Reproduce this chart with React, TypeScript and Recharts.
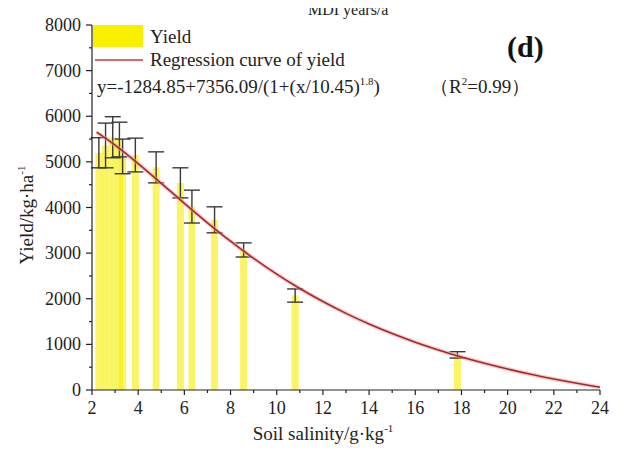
import React from "react";
import { ComposedChart, Bar, Line, XAxis, YAxis, ErrorBar } from "recharts";

// Bars: soil salinity (g/kg), mean yield (kg/ha), error (±)
const salinity = [2.29, 2.58, 2.89, 3.18, 3.32, 3.87, 4.77, 5.82, 6.32, 7.3, 8.56, 10.79, 17.82];
const yieldMean = [5200, 5360, 5540, 5490, 5120, 5150, 4880, 4540, 4020, 3730, 3070, 2070, 770];
const yieldErr = [330, 490, 450, 380, 380, 370, 340, 330, 360, 285, 155, 145, 70];

// Regression curve
const curveX = [2.2, 3, 4, 5, 6, 7, 8, 9, 10, 11, 12, 13, 14, 15, 16, 17, 18, 19, 20, 21, 22, 23, 24];
const curveY = [5651, 5367, 4962, 4529, 4091, 3665, 3261, 2885, 2539, 2224, 1938, 1680, 1447, 1237, 1048, 878, 724, 586, 460, 345, 242, 147, 61];

const xTicks = [2, 3, 4, 5, 6, 7, 8, 9, 10, 11, 12, 13, 14, 15, 16, 17, 18, 19, 20, 21, 22, 23, 24];
const xLabels = [2, 4, 6, 8, 10, 12, 14, 16, 18, 20, 22, 24];
const yTicks = [0, 500, 1000, 1500, 2000, 2500, 3000, 3500, 4000, 4500, 5000, 5500, 6000, 6500, 7000, 7500, 8000];
const yLabels = [0, 1000, 2000, 3000, 4000, 5000, 6000, 7000, 8000];

type Row = { x: number; y?: number; err?: number; curve?: number };
const rows: Row[] = [
  ...salinity.map((x, i) => ({ x, y: yieldMean[i], err: yieldErr[i] })),
  ...curveX.map((x, i) => ({ x, curve: curveY[i] })),
].sort((a, b) => a.x - b.x);

const FONT = "'Liberation Serif', 'Times New Roman', serif";
const AX = "#222";
const BAR_W = 7;

const YTick = (props: any) => {
  const { x, y, payload } = props;
  const major = yLabels.includes(payload.value);
  return (
    <g>
      <line x1={x - (major ? 6 : 3)} x2={x} y1={y} y2={y} stroke={AX} strokeWidth={1.2} />
      {major && (
        <text x={x - 11} y={y + 6} textAnchor="end" fontFamily={FONT} fontSize={18} fill="#222">
          {payload.value}
        </text>
      )}
    </g>
  );
};

const XTick = (props: any) => {
  const { x, y, payload } = props;
  const major = xLabels.includes(payload.value);
  return (
    <g>
      <line x1={x} x2={x} y1={y} y2={y + (major ? 5 : 3)} stroke={AX} strokeWidth={1.2} />
      {major && (
        <text x={x} y={y + 24} textAnchor="middle" fontFamily={FONT} fontSize={18} fill="#222">
          {payload.value}
        </text>
      )}
    </g>
  );
};

const BarShape = (p: any) => {
  if (p.height == null || !isFinite(p.height) || p.height <= 0) return null;
  const cx = p.x + p.width / 2;
  return (
    <rect x={cx - BAR_W / 2} y={p.y} width={BAR_W} height={p.height} fill="#f5ef00" fillOpacity={0.6} />
  );
};

export default function App() {
  return (
    <div style={{ position: "relative", width: 632, height: 443, background: "#fff" }}>
      <ComposedChart
        width={632}
        height={443}
        data={rows}
        margin={{ top: 17, right: 40, bottom: 0, left: 0 }}
      >
        <XAxis
          dataKey="x"
          type="number"
          domain={[2, 24]}
          ticks={xTicks}
          interval={0}
          tickSize={0}
          tickMargin={0}
          tickLine={false}
          height={61}
          axisLine={{ stroke: AX, strokeWidth: 1.2 }}
          tick={<XTick />}
          allowDataOverflow
        />
        <YAxis
          type="number"
          domain={[0, 8000]}
          ticks={yTicks}
          interval={0}
          tickSize={0}
          tickMargin={0}
          tickLine={false}
          width={84}
          axisLine={{ stroke: AX, strokeWidth: 1.2 }}
          tick={<YTick />}
        />
        <Bar dataKey="y" shape={<BarShape />} isAnimationActive={false}>
          <ErrorBar dataKey="err" width={8} stroke="#3a3a3a" strokeWidth={1.4} direction="y" />
        </Bar>
        <Line
          dataKey="curve"
          type="monotone"
          stroke="#f2a0a0"
          strokeWidth={4}
          strokeOpacity={0.55}
          dot={false}
          connectNulls
          isAnimationActive={false}
        />
        <Line
          dataKey="curve"
          type="monotone"
          stroke="#a8282a"
          strokeWidth={1.6}
          dot={false}
          connectNulls
          isAnimationActive={false}
        />
      </ComposedChart>
      <svg
        width={640}
        height={451}
        style={{ position: "absolute", left: -8, top: -8, pointerEvents: "none" }}
      >
        <text x={308} y={15} fontFamily={FONT} fontSize={16} fill="#222">MDI years/a</text>
        <rect x={93} y={25} width={50} height={22} fill="#f8f000" />
        <text x={150} y={43} fontFamily={FONT} fontSize={19} fill="#222">Yield</text>
        <line x1={95} x2={143} y1={60} y2={60} stroke="#c83a3a" strokeWidth={1.5} />
        <text x={150} y={66} fontFamily={FONT} fontSize={19} fill="#222">Regression curve of yield</text>
        <text x={97} y={93} fontFamily={FONT} fontSize={19} fill="#222">
          y=-1284.85+7356.09/(1+(x/10.45)
          <tspan fontSize={11} dy={-8}>1.8</tspan>
          <tspan dy={8}>)</tspan>
        </text>
        <text x={430} y={93} fontFamily={FONT} fontSize={19} fill="#222">
          {"（R"}
          <tspan fontSize={11} dy={-8}>2</tspan>
          <tspan dy={8}>{"=0.99）"}</tspan>
        </text>
        <text x={507} y={57} fontFamily={FONT} fontSize={30} fontWeight="bold" fill="#111">(d)</text>
        <text x={323} y={440} textAnchor="middle" fontFamily={FONT} fontSize={19} fill="#222">
          Soil salinity/g·kg
          <tspan fontSize={11} dy={-8}>-1</tspan>
        </text>
        <text
          transform="translate(33,215) rotate(-90)"
          textAnchor="middle"
          fontFamily={FONT}
          fontSize={19}
          fill="#222"
        >
          Yield/kg·ha
          <tspan fontSize={11} dy={-8}>-1</tspan>
        </text>
      </svg>
    </div>
  );
}
